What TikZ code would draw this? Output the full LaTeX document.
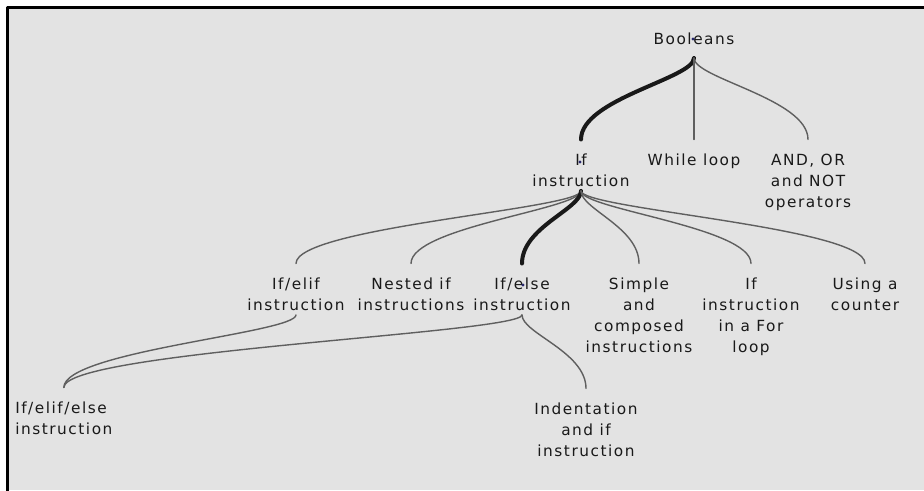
\documentclass[tikz,border=0pt]{standalone}
\usepackage{fontspec}
\setmainfont{DejaVu Sans}[LetterSpace=10]
\usetikzlibrary{calc}
\definecolor{panel}{RGB}{227,227,227}
\definecolor{twiggray}{RGB}{95,95,95}
\definecolor{dotblue}{RGB}{40,40,110}
\tikzset{
  topic/.style={font=\fontsize{11.5}{15.75}\selectfont, align=center, anchor=north, inner sep=0pt, text=black!90},
  twig/.style={draw=twiggray, line width=1.05pt},
  trunk/.style={draw=black!90, line width=3pt},
}
% parent -> child, ends vertical at the child
\newcommand\branch[3][twig]{%
  \coordinate (p) at ($(#2.south)+(0,4)$);
  \coordinate (c) at ($(#3.north)+(0,-14)$);
  \draw[#1] (p) .. controls ($(p)!.25!(p|-c)$) and ($(c)!.5!(c|-p)$) .. (c);}
\begin{document}
\begin{tikzpicture}[x=0.75pt, y=-0.75pt, line cap=round, line join=round]
\useasboundingbox (0,0) rectangle (924,490);
\fill[white] (0,0) rectangle (924,490);
\fill[panel] (7.5,7.5) rectangle (924,490);
\draw[line width=2.25pt, line cap=rect] (7.5,490) -- (7.5,7.5) -- (924,7.5);

% level 0 and 1
\node[topic, text depth=7pt] (bool) at (694,32.5) {Booleans};
\node[topic] (ifi) at (581,153.5) {If\\instruction};
\node[topic] (while) at (694,153.5) {While loop};
\node[topic] (ops) at (808,153.5) {AND, OR\\and NOT\\operators};

% level 2
\node[topic] (elif) at (296,277.5) {If/elif\\instruction};
\node[topic] (nested) at (411,277.5) {Nested if\\instructions};
\node[topic] (ifelse) at (522,277.5) {If/else\\instruction};
\node[topic] (simple) at (639,277.5) {Simple\\and\\composed\\instructions};
\node[topic] (forloop) at (751,277.5) {If\\instruction\\in a For\\loop};
\node[topic] (counter) at (865,277.5) {Using a\\counter};

% level 3
\node[topic, align=left, anchor=north west] (elifelse) at (15,401.5) {If/elif/else\\instruction};
\node[topic] (indent) at (586,402.5) {Indentation\\and if\\instruction};

\branch[trunk]{bool}{ifi}
\branch{bool}{while}
\branch{bool}{ops}
\branch{ifi}{elif}
\branch{ifi}{nested}
\branch[trunk]{ifi}{ifelse}
\branch{ifi}{simple}
\branch{ifi}{forloop}
\branch{ifi}{counter}
\branch{elif}{elifelse}
\branch{ifelse}{elifelse}
\branch{ifelse}{indent}

\foreach \p in {(693,39),(580,162),(523,285)}
  \fill[dotblue] \p circle (1.6);
\end{tikzpicture}
\end{document}
